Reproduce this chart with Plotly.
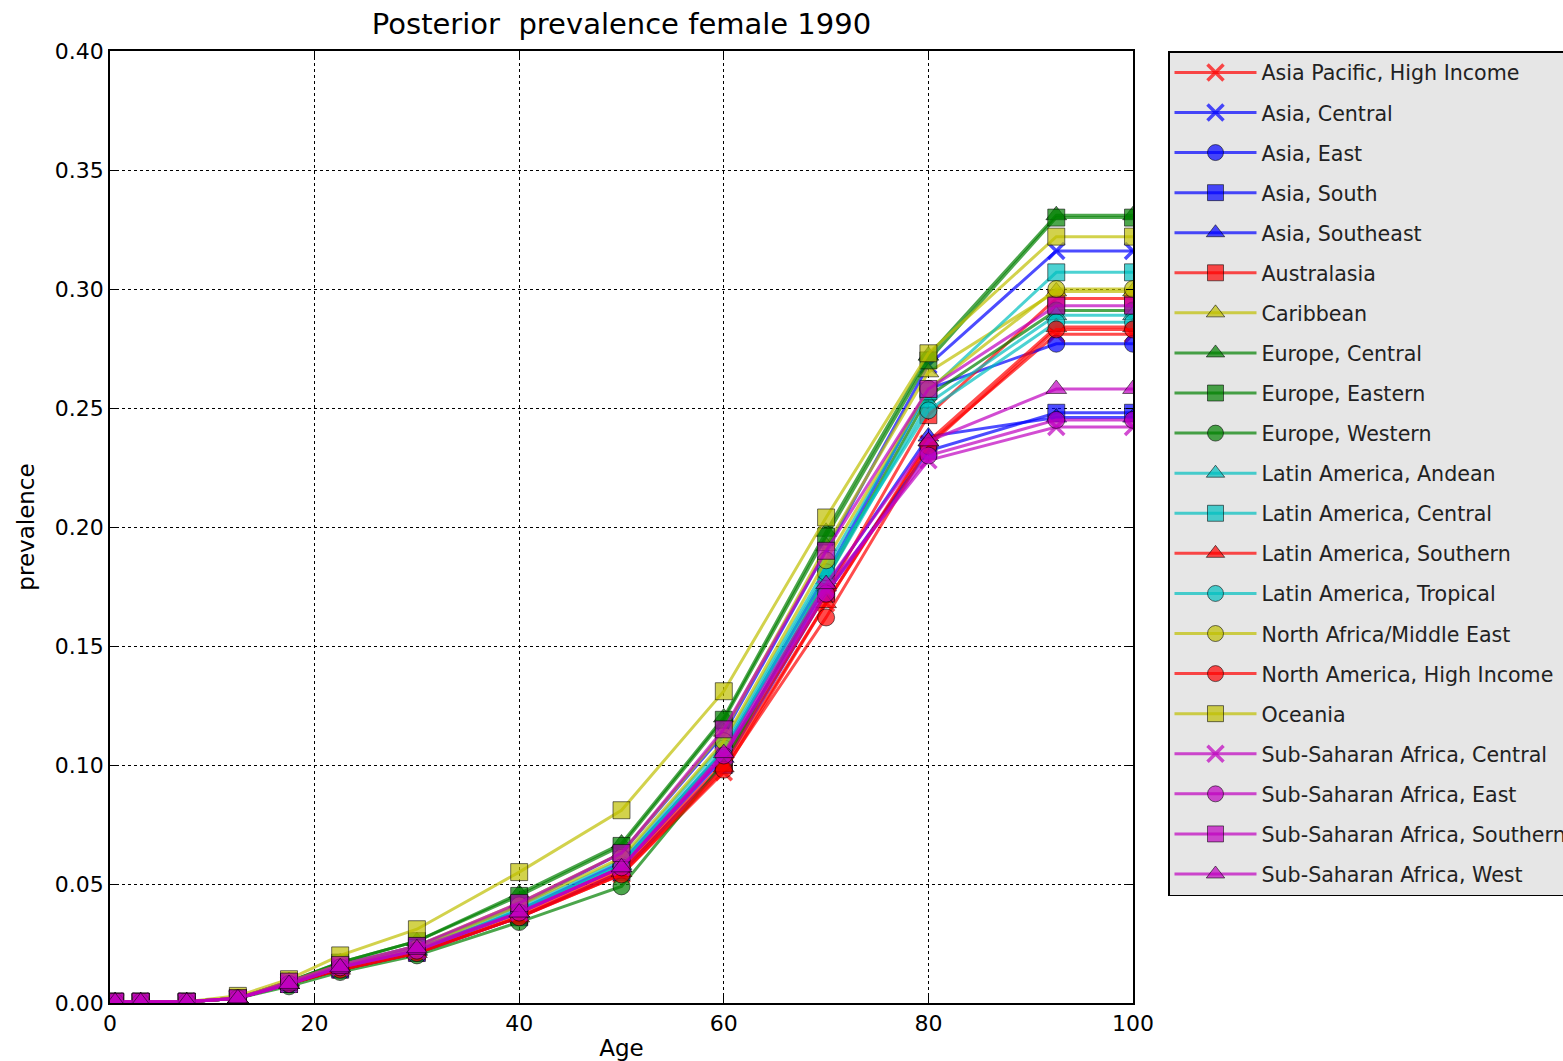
import plotly.graph_objects as go

ages = [0.5, 3, 7.5, 12.5, 17.5, 22.5, 30, 40, 50, 60, 70, 80, 92.5, 100]

regions = [
    "Asia Pacific, High Income", "Asia, Central", "Asia, East", "Asia, South",
    "Asia, Southeast", "Australasia", "Caribbean", "Europe, Central",
    "Europe, Eastern", "Europe, Western", "Latin America, Andean",
    "Latin America, Central", "Latin America, Southern", "Latin America, Tropical",
    "North Africa/Middle East", "North America, High Income", "Oceania",
    "Sub-Saharan Africa, Central", "Sub-Saharan Africa, East",
    "Sub-Saharan Africa, Southern", "Sub-Saharan Africa, West",
]

asia_pacific_hi = [0.0005, 0.0005, 0.0005, 0.002, 0.008, 0.014, 0.021, 0.036, 0.054, 0.097, 0.168, 0.235, 0.281, 0.281]
asia_central    = [0.0005, 0.0005, 0.0005, 0.002, 0.009, 0.016, 0.024, 0.041, 0.063, 0.113, 0.190, 0.268, 0.316, 0.316]
asia_east       = [0.0005, 0.0005, 0.0005, 0.002, 0.008, 0.015, 0.022, 0.039, 0.059, 0.106, 0.180, 0.258, 0.277, 0.277]
asia_south      = [0.0005, 0.0005, 0.0005, 0.002, 0.008, 0.014, 0.021, 0.036, 0.055, 0.100, 0.172, 0.232, 0.248, 0.248]
asia_southeast  = [0.0005, 0.0005, 0.0005, 0.002, 0.008, 0.015, 0.022, 0.038, 0.057, 0.103, 0.175, 0.238, 0.246, 0.246]
australasia     = [0.0005, 0.0005, 0.0005, 0.002, 0.008, 0.015, 0.022, 0.037, 0.056, 0.101, 0.172, 0.247, 0.296, 0.296]
caribbean       = [0.0005, 0.0005, 0.0005, 0.002, 0.009, 0.016, 0.024, 0.042, 0.063, 0.114, 0.192, 0.265, 0.299, 0.299]
europe_central  = [0.0005, 0.0005, 0.0005, 0.002, 0.009, 0.017, 0.026, 0.046, 0.067, 0.120, 0.198, 0.272, 0.331, 0.331]
europe_eastern  = [0.0005, 0.0005, 0.0005, 0.002, 0.009, 0.017, 0.026, 0.045, 0.066, 0.119, 0.196, 0.270, 0.330, 0.330]
europe_western  = [0.0005, 0.0005, 0.0005, 0.002, 0.007, 0.013, 0.020, 0.034, 0.049, 0.101, 0.178, 0.255, 0.291, 0.291]
latam_andean    = [0.0005, 0.0005, 0.0005, 0.002, 0.008, 0.015, 0.022, 0.038, 0.058, 0.106, 0.178, 0.252, 0.289, 0.289]
latam_central   = [0.0005, 0.0005, 0.0005, 0.002, 0.008, 0.016, 0.023, 0.040, 0.060, 0.109, 0.183, 0.257, 0.307, 0.307]
latam_southern  = [0.0005, 0.0005, 0.0005, 0.002, 0.008, 0.014, 0.021, 0.036, 0.055, 0.099, 0.168, 0.236, 0.284, 0.284]
latam_tropical  = [0.0005, 0.0005, 0.0005, 0.002, 0.008, 0.015, 0.022, 0.039, 0.058, 0.107, 0.181, 0.249, 0.286, 0.286]
north_africa_me = [0.0005, 0.0005, 0.0005, 0.002, 0.009, 0.016, 0.023, 0.041, 0.061, 0.110, 0.186, 0.258, 0.300, 0.300]
north_america_hi= [0.0005, 0.0005, 0.0005, 0.002, 0.008, 0.014, 0.021, 0.036, 0.054, 0.098, 0.162, 0.234, 0.283, 0.283]
oceania         = [0.0005, 0.0005, 0.0005, 0.003, 0.010, 0.020, 0.031, 0.055, 0.081, 0.131, 0.204, 0.273, 0.322, 0.322]
ssa_central     = [0.0005, 0.0005, 0.0005, 0.002, 0.008, 0.015, 0.022, 0.038, 0.057, 0.104, 0.174, 0.228, 0.242, 0.242]
ssa_east        = [0.0005, 0.0005, 0.0005, 0.002, 0.008, 0.015, 0.022, 0.038, 0.057, 0.104, 0.172, 0.230, 0.245, 0.245]
ssa_southern    = [0.0005, 0.0005, 0.0005, 0.002, 0.009, 0.016, 0.024, 0.042, 0.063, 0.115, 0.190, 0.258, 0.293, 0.293]
ssa_west        = [0.0005, 0.0005, 0.0005, 0.002, 0.008, 0.015, 0.023, 0.038, 0.057, 0.105, 0.176, 0.236, 0.258, 0.258]

series = [asia_pacific_hi, asia_central, asia_east, asia_south, asia_southeast,
          australasia, caribbean, europe_central, europe_eastern, europe_western,
          latam_andean, latam_central, latam_southern, latam_tropical,
          north_africa_me, north_america_hi, oceania, ssa_central, ssa_east,
          ssa_southern, ssa_west]

colors = ["r", "b", "b", "b", "b", "r", "y", "g", "g", "g", "c", "c", "r", "c",
          "y", "r", "y", "m", "m", "m", "m"]
markers = ["x", "x", "o", "s", "^", "s", "^", "^", "s", "o", "^", "s", "^", "o",
           "o", "o", "s", "x", "o", "s", "^"]

rgb = {"r": (255, 0, 0), "b": (0, 0, 255), "g": (0, 128, 0),
       "c": (0, 191, 191), "m": (191, 0, 191), "y": (191, 191, 0)}
sym = {"x": "x-thin", "o": "circle", "s": "square", "^": "triangle-up"}

fig = go.Figure()
for i, (name, vals) in enumerate(zip(regions, series)):
    r, g, b = rgb[colors[i]]
    col = f"rgba({r},{g},{b},0.7)"
    mk = markers[i]
    if mk == "x":
        marker = dict(symbol=sym[mk], size=16, color=col, line=dict(color=col, width=3.5))
    else:
        marker = dict(symbol=sym[mk], size=17 if mk != "^" else 18, color=col,
                      line=dict(color="rgba(0,0,0,0.55)", width=1))
    fig.add_trace(go.Scatter(
        x=ages, y=vals, name=name, mode="lines+markers",
        line=dict(color=col, width=3), marker=marker,
        legendgroup=f"g{i}",
    ))

axis_common = dict(
    showline=True, linecolor="black", linewidth=1.5, mirror="ticks",
    showgrid=True, gridcolor="black", gridwidth=1.2, griddash="dot",
    zeroline=False, ticks="inside", ticklen=7, tickcolor="black",
    tickfont=dict(family="DejaVu Sans", size=22, color="black"),
)

fig.update_layout(
    width=1563, height=1061,
    margin=dict(l=110, r=430, t=51, b=58, autoexpand=False),
    paper_bgcolor="white", plot_bgcolor="white",
    title=dict(text="Posterior  prevalence female 1990", x=(110 + 1133) / 2 / 1563,
               xanchor="center", y=1 - 24 / 1061, yanchor="middle",
               font=dict(family="DejaVu Sans", size=29, color="black")),
    xaxis=dict(range=[0, 100], tickvals=[0, 20, 40, 60, 80, 100],
               title=dict(text="Age", standoff=6,
                          font=dict(family="DejaVu Sans", size=23, color="black")),
               **axis_common),
    yaxis=dict(range=[0, 0.40], tickvals=[0, 0.05, 0.10, 0.15, 0.20, 0.25, 0.30, 0.35, 0.40],
               tickformat=".2f",
               title=dict(text="prevalence", standoff=14,
                          font=dict(family="DejaVu Sans", size=23, color="black")),
               **axis_common),
    legend=dict(x=(1168 - 110) / 1023, xanchor="left", y=1, yanchor="top",
                bgcolor="#e6e6e6", bordercolor="black", borderwidth=1.5,
                font=dict(family="DejaVu Sans", size=20.6, color="#222222"),
                tracegroupgap=10.3, itemwidth=82),
    showlegend=True,
)

fig.write_html("out.html")
